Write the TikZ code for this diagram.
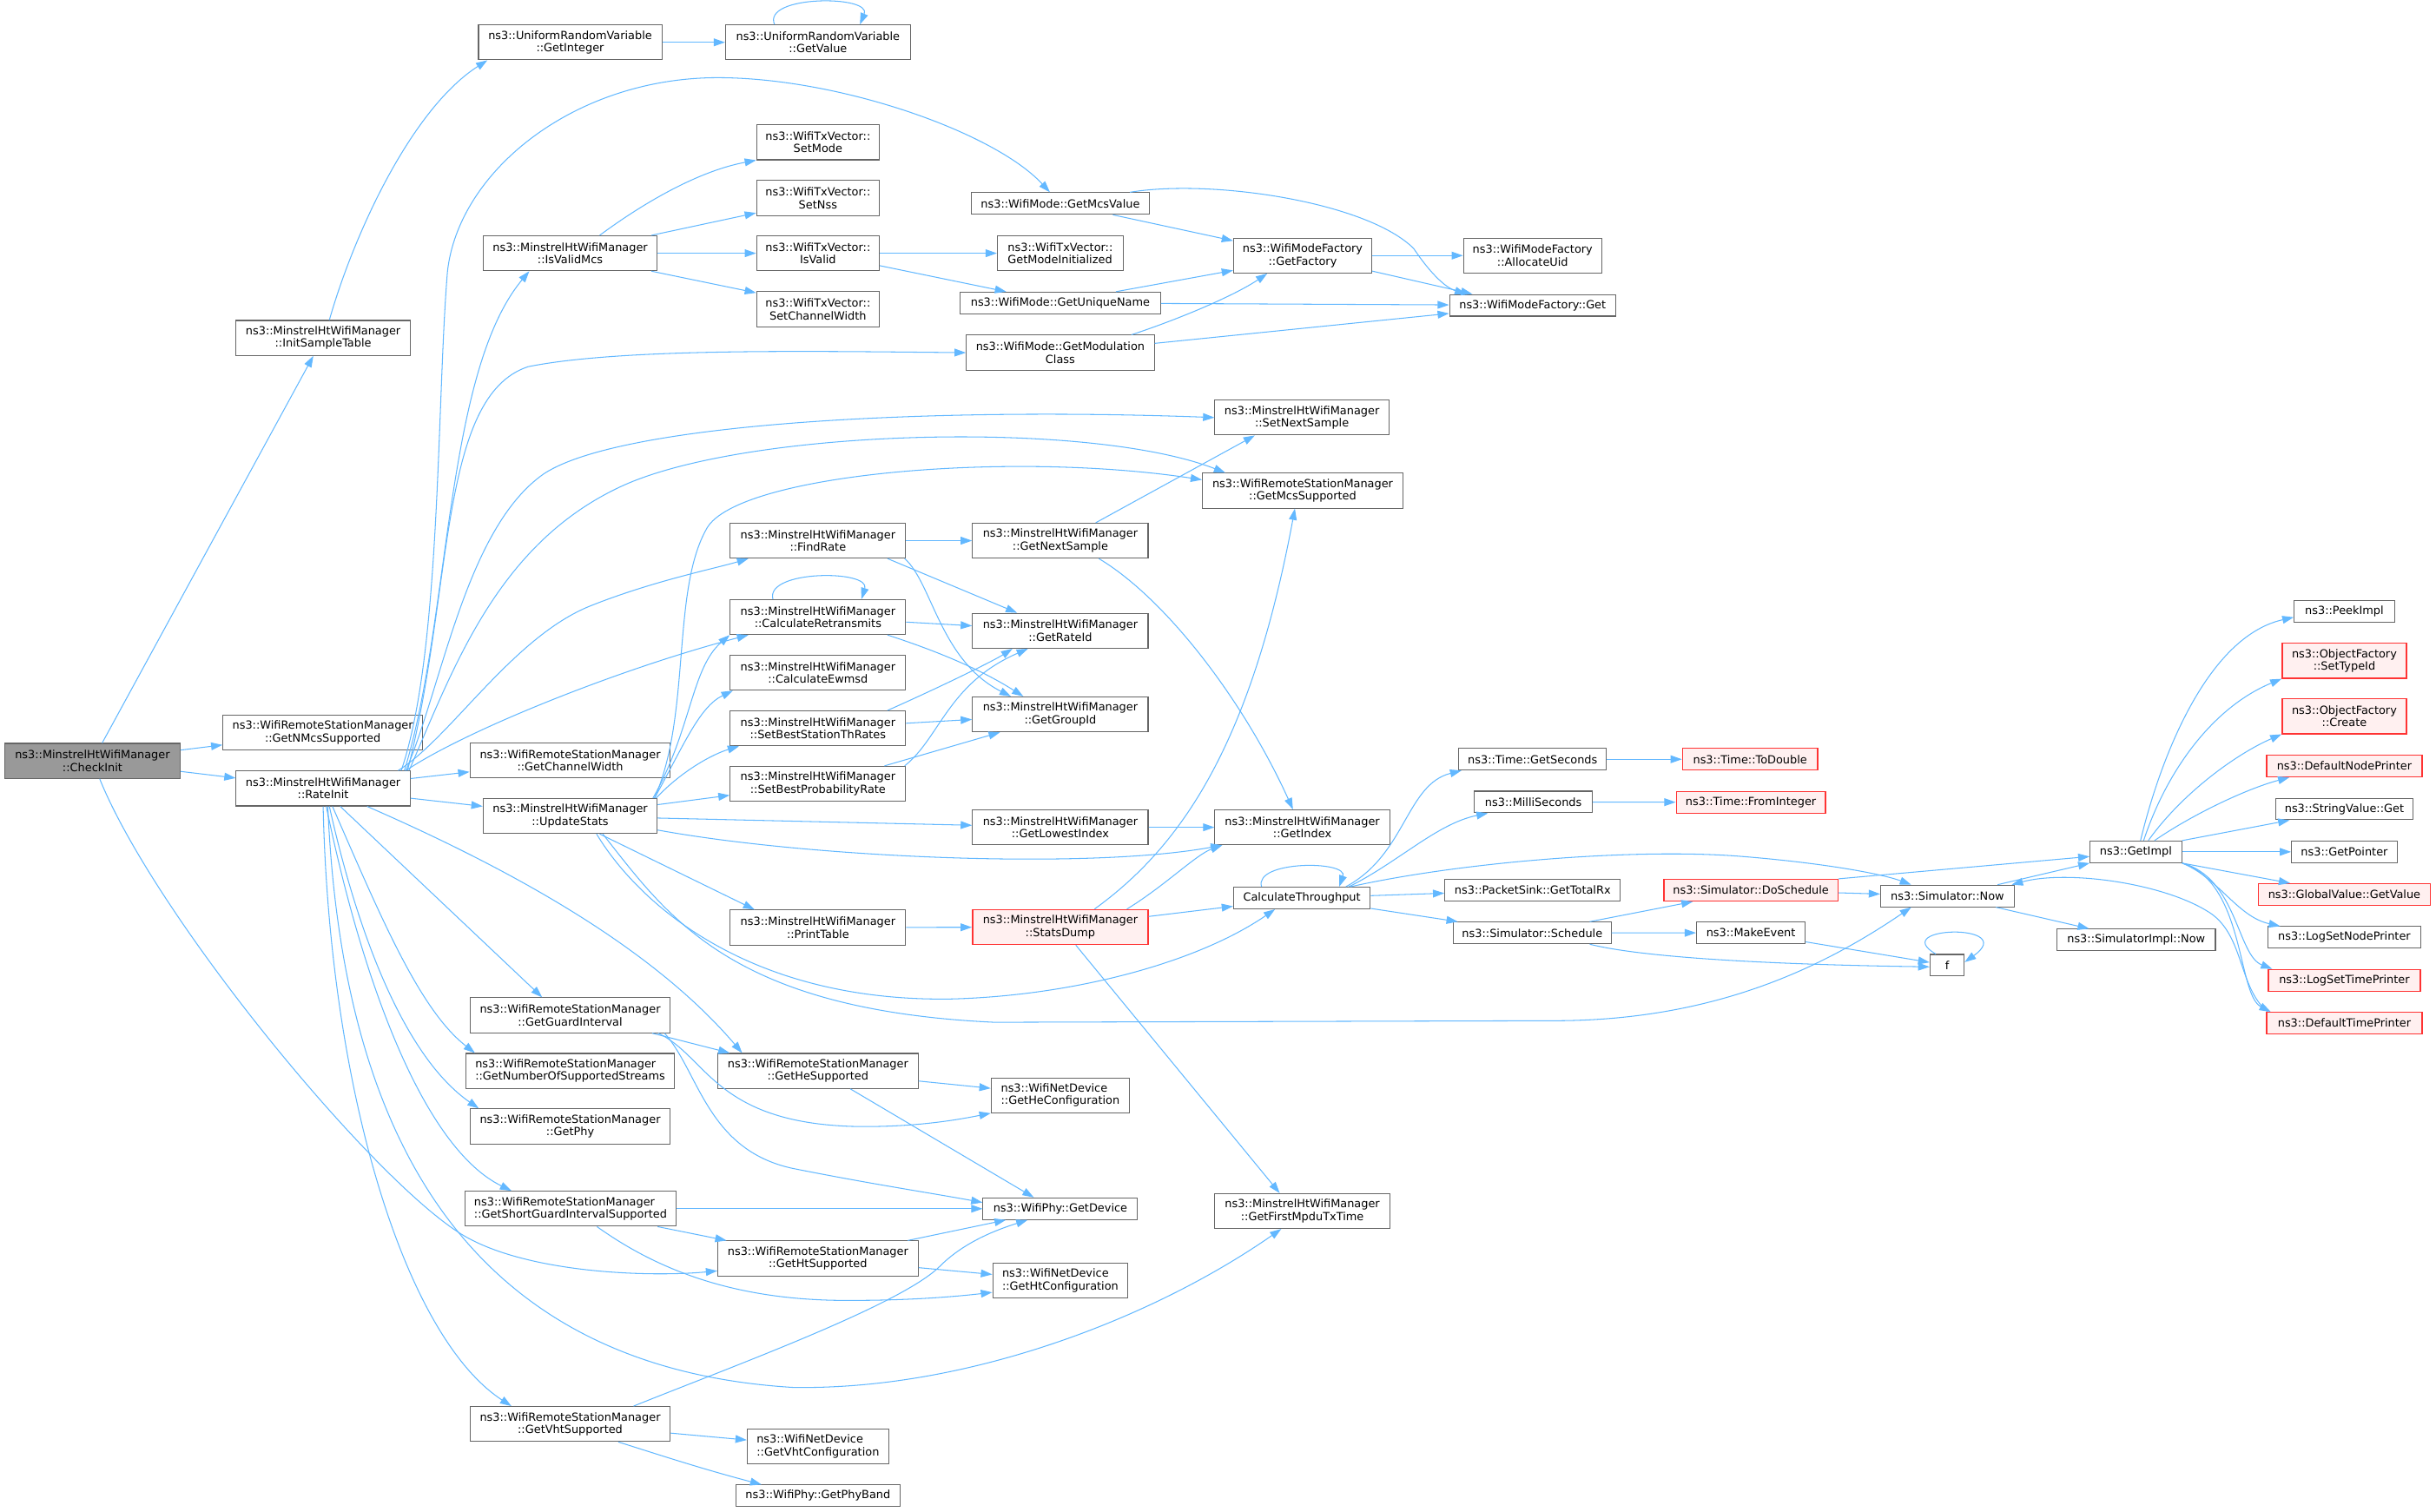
\documentclass[tikz,border=0pt]{standalone}
\usepackage{fontspec}
\setmainfont{DejaVu Sans}
\usetikzlibrary{arrows.meta, calc}
\definecolor{edgeblue}{HTML}{63B8FF}
\definecolor{boxline}{HTML}{666666}
\definecolor{rootfill}{HTML}{999999}
\definecolor{hotline}{HTML}{FF3333}
\definecolor{hotfill}{HTML}{FFF0F0}
\newcommand{\fnfont}{\fontsize{6.15pt}{6.9pt}\selectfont}

\begin{document}
\begin{tikzpicture}[x=0.3mm, y=-0.3mm,
    fn/.style={draw=boxline, fill=white, line width=0.5pt, inner sep=0pt, minimum width=#1*0.3mm, minimum height=11.9pt, align=center, font=\fnfont},
    two/.style={minimum height=19.2pt},
    hot/.style={draw=hotline, fill=hotfill, line width=0.65pt},
    root/.style={fill=rootfill},
    call/.style={draw=edgeblue, line width=0.5pt, -{Triangle[length=2.2mm,width=1.5mm]}}]
      \useasboundingbox (0,0) rectangle (1568,973);

      \node[fn=113, two, root] (checkinit) at (59.5,489.75) {ns3::MinstrelHtWifiManager\\::CheckInit};
      \node[fn=112, two] (initsample) at (208,217.5) {ns3::MinstrelHtWifiManager\\::InitSampleTable};
      \node[fn=118, two] (getinteger) at (367,27.25) {ns3::UniformRandomVariable\\::GetInteger};
      \node[fn=119, two] (getvalue) at (526.5,27.25) {ns3::UniformRandomVariable\\::GetValue};
      \node[fn=128.5, two] (getnmcs) at (207.75,471.6) {ns3::WifiRemoteStationManager\\::GetNMcsSupported};
      \node[fn=112, two] (rateinit) at (208,507.5) {ns3::MinstrelHtWifiManager\\::RateInit};
      \node[fn=112, two] (isvalidmcs) at (367,163) {ns3::MinstrelHtWifiManager\\::IsValidMcs};
      \node[fn=79, two] (setmode) at (526.5,91.6) {ns3::WifiTxVector::\\SetMode};
      \node[fn=79, two] (setnss) at (526.5,127.5) {ns3::WifiTxVector::\\SetNss};
      \node[fn=79, two] (isvalid) at (526.5,163) {ns3::WifiTxVector::\\IsValid};
      \node[fn=79, two] (setchwidth) at (526.5,199) {ns3::WifiTxVector::\\SetChannelWidth};
      \node[fn=115] (getmcsvalue) at (682.5,131) {ns3::WifiMode::GetMcsValue};
      \node[fn=81, two, align=left] (getmodeinit) at (682.5,163) {ns3::WifiTxVector::\\GetModeInitialized};
      \node[fn=129] (getuniquename) at (682.5,195) {ns3::WifiMode::GetUniqueName};
      \node[fn=121, two] (getmodclass) at (682.5,227) {ns3::WifiMode::GetModulation\\Class};
      \node[fn=89, two] (getfactory) at (838.5,164.5) {ns3::WifiModeFactory\\::GetFactory};
      \node[fn=89, two] (allocateuid) at (986.5,164.5) {ns3::WifiModeFactory\\::AllocateUid};
      \node[fn=107] (factoryget) at (986.5,196.5) {ns3::WifiModeFactory::Get};
      \node[fn=112, two] (setnextsample) at (838,268.75) {ns3::MinstrelHtWifiManager\\::SetNextSample};
      \node[fn=129, two] (getmcssupported) at (838.5,315.8) {ns3::WifiRemoteStationManager\\::GetMcsSupported};
      \node[fn=129, two] (getchwidth) at (367,489.5) {ns3::WifiRemoteStationManager\\::GetChannelWidth};
      \node[fn=112, two] (updatestats) at (367,525.25) {ns3::MinstrelHtWifiManager\\::UpdateStats};
      \node[fn=113, two] (findrate) at (526.5,348) {ns3::MinstrelHtWifiManager\\::FindRate};
      \node[fn=113, two] (calcretrans) at (526.5,397.2) {ns3::MinstrelHtWifiManager\\::CalculateRetransmits};
      \node[fn=113, two] (calcewmsd) at (526.5,433) {ns3::MinstrelHtWifiManager\\::CalculateEwmsd};
      \node[fn=113, two] (setbestth) at (526.5,468.8) {ns3::MinstrelHtWifiManager\\::SetBestStationThRates};
      \node[fn=113, two] (setbestprob) at (526.5,504.5) {ns3::MinstrelHtWifiManager\\::SetBestProbabilityRate};
      \node[fn=113, two] (printtable) at (526.5,597) {ns3::MinstrelHtWifiManager\\::PrintTable};
      \node[fn=113, two] (getnextsample) at (682.5,348) {ns3::MinstrelHtWifiManager\\::GetNextSample};
      \node[fn=113, two] (getrateid) at (682.5,406) {ns3::MinstrelHtWifiManager\\::GetRateId};
      \node[fn=113, two] (getgroupid) at (682.5,459.8) {ns3::MinstrelHtWifiManager\\::GetGroupId};
      \node[fn=113, two] (getlowestindex) at (682.5,532.5) {ns3::MinstrelHtWifiManager\\::GetLowestIndex};
      \node[fn=112.5, two] (getindex) at (838.25,532.5) {ns3::MinstrelHtWifiManager\\::GetIndex};
      \node[fn=113, two, hot] (statsdump) at (682.5,596.75) {ns3::MinstrelHtWifiManager\\::StatsDump};
      \node[fn=88] (calcthroughput) at (838,578) {CalculateThroughput};
      \node[fn=95] (getseconds) at (986.5,488.7) {ns3::Time::GetSeconds};
      \node[fn=76] (millis) at (987,516.2) {ns3::MilliSeconds};
      \node[fn=113] (gettotalrx) at (986.5,573) {ns3::PacketSink::GetTotalRx};
      \node[fn=101.5] (schedule) at (986.25,600.5) {ns3::Simulator::Schedule};
      \node[fn=87, hot] (todouble) at (1126.5,488.7) {ns3::Time::ToDouble};
      \node[fn=96, hot] (frominteger) at (1127,516.4) {ns3::Time::FromInteger};
      \node[fn=112, hot] (doschedule) at (1127,573) {ns3::Simulator::DoSchedule};
      \node[fn=70] (makeevent) at (1127,600.4) {ns3::MakeEvent};
      \node[fn=86] (simnow) at (1253.5,576.7) {ns3::Simulator::Now};
      \node[fn=22] (f) at (1253.3,621.3) {f};
      \node[fn=102] (simimplnow) at (1375,605) {ns3::SimulatorImpl::Now};
      \node[fn=59] (getimpl) at (1374.8,548.3) {ns3::GetImpl};
      \node[fn=64.6] (peekimpl) at (1509,393.3) {ns3::PeekImpl};
      \node[fn=80, two, hot] (settypeid) at (1509,425.3) {ns3::ObjectFactory\\::SetTypeId};
      \node[fn=80, two, hot] (create) at (1509,461) {ns3::ObjectFactory\\::Create};
      \node[fn=100, hot] (defnodeprinter) at (1509,493) {ns3::DefaultNodePrinter};
      \node[fn=88] (stringget) at (1509,520.7) {ns3::StringValue::Get};
      \node[fn=68] (getpointer) at (1509,548.3) {ns3::GetPointer};
      \node[fn=111, hot] (globalget) at (1509,575.8) {ns3::GlobalValue::GetValue};
      \node[fn=98] (lognodeprinter) at (1509,603.4) {ns3::LogSetNodePrinter};
      \node[fn=98, hot] (logtimeprinter) at (1509,631) {ns3::LogSetTimePrinter};
      \node[fn=100, hot] (deftimeprinter) at (1509,658.6) {ns3::DefaultTimePrinter};
      \node[fn=129, two] (getguard) at (367,653.5) {ns3::WifiRemoteStationManager\\::GetGuardInterval};
      \node[fn=134, two, align=left] (getnss) at (367,689.3) {ns3::WifiRemoteStationManager\\::GetNumberOfSupportedStreams};
      \node[fn=129, two] (getphy) at (367,725) {ns3::WifiRemoteStationManager\\::GetPhy};
      \node[fn=135.5, two, align=left] (getsgi) at (367.25,778) {ns3::WifiRemoteStationManager\\::GetShortGuardIntervalSupported};
      \node[fn=129, two] (gethe) at (526.5,689.3) {ns3::WifiRemoteStationManager\\::GetHeSupported};
      \node[fn=129, two] (getht) at (526.5,810) {ns3::WifiRemoteStationManager\\::GetHtSupported};
      \node[fn=129, two] (getvht) at (367,916.6) {ns3::WifiRemoteStationManager\\::GetVhtSupported};
      \node[fn=91, two, align=left] (getvhtconf) at (526.5,931) {ns3::WifiNetDevice\\::GetVhtConfiguration};
      \node[fn=106] (getphyband) at (526.5,962.8) {ns3::WifiPhy::GetPhyBand};
      \node[fn=89, two, align=left] (getheconf) at (682.5,705) {ns3::WifiNetDevice\\::GetHeConfiguration};
      \node[fn=99.5] (getdevice) at (682.5,778) {ns3::WifiPhy::GetDevice};
      \node[fn=87, two, align=left] (gethtconf) at (682.5,824.3) {ns3::WifiNetDevice\\::GetHtConfiguration};
      \node[fn=112.5, two] (getfirstmpdu) at (838.25,779.5) {ns3::MinstrelHtWifiManager\\::GetFirstMpduTxTime};

      \draw[call] (checkinit) -- (initsample);
      \draw[call] (checkinit) -- (getnmcs);
      \draw[call] (checkinit) -- (rateinit);
      \draw[call] (checkinit) .. controls (100,590) and (240,760) .. (298,795) .. controls (340,820) and (420,822) .. ($(getht.west)+(0,8)$);
      \draw[call] ($(initsample.north)+(4,0)$) .. controls (228,150) and (265,70) .. ($(getinteger.south west)+(6,0)$);
      \draw[call] (getinteger) -- (getvalue);
      \draw[call] ($(getvalue.north)+(-28,0)$) .. controls +(-8,-19) and +(8,-19) .. ($(getvalue.north)+(27,0)$);

      \draw[call] ($(rateinit.north east)+(-6,0)$) .. controls (284,420) and (281,260) .. (288,175) .. controls (295,110) and (370,50) .. (462,50) .. controls (540,50) and (640,85) .. (getmcsvalue);
      \draw[call] ($(rateinit.north east)+(-4,0)$) .. controls (290,400) and (286,240) .. ($(isvalidmcs.south west)+(30,0)$);
      \draw[call] ($(rateinit.north east)+(-2,0)$) .. controls (292,380) and (282,255) .. (340,236) .. controls (400,224) and (520,226) .. (getmodclass.west);
      \draw[call] ($(rateinit.north east)+(-3,0)$) .. controls (285,440) and (300,340) .. (350,305) .. controls (400,272) and (600,262) .. (setnextsample.west);
      \draw[call] ($(rateinit.north east)+(-1,0)$) .. controls (292,430) and (320,350) .. (400,313) .. controls (480,276) and (700,270) .. ($(getmcssupported.north west)+(15,0)$);
      \draw[call] ($(rateinit.north east)+(-8,0)$) .. controls (290,475) and (330,410) .. (380,390) .. controls (420,374) and (460,366) .. ($(findrate.south west)+(12,0)$);
      \draw[call] ($(rateinit.north east)+(-3,0)$) .. controls (300,470) and (400,430) .. ($(calcretrans.south west)+(12,0)$);
      \draw[call] (rateinit) -- (getchwidth);
      \draw[call] (rateinit) -- (updatestats);
      \draw[call] ($(rateinit.south east)+(-28,0)$) .. controls (330,560) and (420,610) .. ($(gethe.north west)+(16,0)$);
      \draw[call] ($(rateinit.south)+(11,0)$) -- ($(getguard.north)+(-18,0)$);
      \draw[call] ($(rateinit.south)+(6,0)$) .. controls (245,590) and (270,650) .. ($(getnss.north west)+(6,0)$);
      \draw[call] ($(rateinit.south)+(4,0)$) .. controls (230,600) and (260,680) .. ($(getphy.north west)+(6,0)$);
      \draw[call] ($(rateinit.south)+(2,0)$) .. controls (235,640) and (275,740) .. ($(getsgi.north west)+(30,0)$);
      \draw[call] (rateinit.south) .. controls (212,700) and (260,860) .. ($(getvht.north west)+(27,0)$);
      \draw[call] ($(rateinit.south)+(3,0)$) .. controls (220,730) and (300,880) .. (510,893) .. controls (620,895) and (740,850) .. ($(getfirstmpdu.south west)+(43,0)$);

      \draw[call] ($(updatestats.north east)+(-3,0)$) .. controls (445,470) and (445,430) .. (calcretrans.south west);
      \draw[call] ($(updatestats.north east)+(-2,0)$) .. controls (440,480) and (450,455) .. ($(calcewmsd.south west)+(2,0)$);
      \draw[call] ($(updatestats.north east)+(-1,0)$) .. controls (440,495) and (460,485) .. ($(setbestth.south west)+(6,0)$);
      \draw[call] (updatestats) -- (setbestprob);
      \draw[call] ($(updatestats.north east)+(-2,0)$) .. controls (445,460) and (432,380) .. (455,340) .. controls (475,305) and (650,290) .. ($(getmcssupported.west)+(0,-7)$);
      \draw[call] (updatestats) -- (getlowestindex);
      \draw[call] ($(updatestats.east)+(0,9)$) .. controls (520,552) and (700,560) .. ($(getindex.south west)+(5,0)$);
      \draw[call] ($(updatestats.south)+(19,0)$) -- ($(printtable.north west)+(16,0)$);
      \draw[call] ($(updatestats.south)+(17,0)$) .. controls (410,580) and (480,645) .. (612,643) .. controls (690,641) and (770,620) .. ($(calcthroughput.south west)+(27,0)$);
      \draw[call] ($(updatestats.south)+(21,0)$) .. controls (430,590) and (470,650) .. (640,658) -- (1000,657) .. controls (1100,657) and (1170,625) .. ($(simnow.south west)+(20,0)$);

      \draw[call] (findrate) -- (getnextsample);
      \draw[call] ($(findrate.south east)+(-12,0)$) -- ($(getrateid.north west)+(29,0)$);
      \draw[call] ($(findrate.south east)+(-1,0)$) .. controls (600,375) and (605,425) .. ($(getgroupid.north west)+(25,0)$);
      \draw[call] ($(calcretrans.north)+(-29,0)$) .. controls +(-5,-19) and +(6,-19) .. ($(calcretrans.north)+(28,0)$);
      \draw[call] (calcretrans) -- (getrateid);
      \draw[call] ($(calcretrans.south east)+(-12,0)$) .. controls (600,418) and (630,430) .. ($(getgroupid.north west)+(33,0)$);
      \draw[call] ($(setbestth.north east)+(-12,0)$) .. controls (610,440) and (640,425) .. ($(getrateid.south west)+(26,0)$);
      \draw[call] (setbestth) -- (getgroupid);
      \draw[call] ($(setbestprob.north east)+(-14,0)$) -- ($(getgroupid.south west)+(18,0)$);
      \draw[call] ($(setbestprob.north east)+(-1,0)$) .. controls (605,475) and (610,440) .. ($(getrateid.south west)+(36,0)$);
      \draw[call] ($(getnextsample.north east)+(-34,0)$) -- ($(setnextsample.south west)+(26,0)$);
      \draw[call] ($(getnextsample.south east)+(-32,0)$) .. controls (750,385) and (800,450) .. ($(getindex.north)+(-6,0)$);
      \draw[call] (getlowestindex) -- (getindex);
      \draw[call] (printtable) -- (statsdump);

      \draw[call] ($(statsdump.north)+(22,0)$) .. controls (760,545) and (805,480) .. ($(getmcssupported.south)+(-5,0)$);
      \draw[call] ($(statsdump.north east)+(-14,0)$) .. controls (750,570) and (770,550) .. ($(getindex.south west)+(5,0)$);
      \draw[call] (statsdump) -- (calcthroughput);
      \draw[call] ($(statsdump.south)+(10,0)$) -- ($(getfirstmpdu.north west)+(42,0)$);

      \draw[call] ($(calcthroughput.north)+(-26,0)$) .. controls +(-5,-17) and +(6,-17) .. ($(calcthroughput.north)+(24,0)$);
      \draw[call] ($(calcthroughput.north east)+(-16,0)$) .. controls (905,550) and (905,505) .. ($(getseconds.south west)+(2,0)$);
      \draw[call] ($(calcthroughput.north east)+(-14,0)$) .. controls (900,555) and (925,530) .. ($(millis.south west)+(9,0)$);
      \draw[call] (calcthroughput) -- (gettotalrx);
      \draw[call] (calcthroughput) -- (schedule);
      \draw[call] ($(calcthroughput.north east)+(-13,0)$) .. controls (940,555) and (1050,546) .. (1118,551) .. controls (1170,555) and (1210,562) .. ($(simnow.north west)+(20,0)$);
      \draw[call] (getseconds) -- (todouble);
      \draw[call] (millis) -- (frominteger);
      \draw[call] ($(schedule.north east)+(-14,0)$) -- ($(doschedule.south west)+(19,0)$);
      \draw[call] (schedule) -- (makeevent);
      \draw[call] ($(schedule.south east)+(-14,0)$) .. controls (1060,617) and (1150,621) .. ($(f.west)+(0,1)$);
      \draw[call] (doschedule) -- (simnow);
      \draw[call] (doschedule.north east) -- ($(getimpl.west)+(0,3)$);
      \draw[call] (makeevent) -- (f);
      \draw[call] ($(f.north west)+(4,0)$) .. controls (1215,596) and (1300,594) .. ($(f.east)+(0,-2)$);
      \draw[call] ($(simnow.north east)+(-11,0)$) -- (getimpl.south west);
      \draw[call] ($(simnow.south east)+(-12,0)$) -- ($(simimplnow.north west)+(21,0)$);
      \draw[call] ($(deftimeprinter.north west)+(1,0)$) .. controls (1440,635) and (1445,600) .. (1420,586) .. controls (1390,568) and (1330,560) .. ($(simnow.north east)+(-2,0)$);

      \draw[call] ($(getimpl.north)+(3,0)$) .. controls (1390,490) and (1420,410) .. ($(peekimpl.west)+(0,4)$);
      \draw[call] ($(getimpl.north)+(5,0)$) .. controls (1395,495) and (1425,455) .. (settypeid.south west);
      \draw[call] ($(getimpl.north)+(8,0)$) .. controls (1405,510) and (1440,485) .. (create.south west);
      \draw[call] ($(getimpl.north)+(12,0)$) .. controls (1410,525) and (1445,508) .. ($(defnodeprinter.south west)+(15,0)$);
      \draw[call] (getimpl.north east) -- ($(stringget.south west)+(9,0)$);
      \draw[call] (getimpl) -- (getpointer);
      \draw[call] (getimpl.south east) -- ($(globalget.north west)+(21,0)$);
      \draw[call] (getimpl.south east) .. controls (1428,565) and (1440,590) .. ($(lognodeprinter.north west)+(8,0)$);
      \draw[call] (getimpl.south east) .. controls (1440,565) and (1440,615) .. ($(logtimeprinter.north west)+(3,0)$);
      \draw[call] (getimpl.south east) .. controls (1445,568) and (1440,640) .. ($(deftimeprinter.north west)+(3,0)$);

      \draw[call] ($(isvalidmcs.north)+(19,0)$) .. controls (415,130) and (450,110) .. (setmode.south west);
      \draw[call] ($(isvalidmcs.north east)+(-4,0)$) -- ($(setnss.south west)+(0,-2)$);
      \draw[call] (isvalidmcs) -- (isvalid);
      \draw[call] ($(isvalidmcs.south east)+(-4,0)$) -- ($(setchwidth.north west)+(0,1)$);
      \draw[call] (isvalid) -- (getmodeinit);
      \draw[call] ($(isvalid.east)+(0,8)$) -- ($(getuniquename.north west)+(30,0)$);
      \draw[call] ($(getmcsvalue.south east)+(-24,0)$) -- ($(getfactory.north west)+(0,2)$);
      \draw[call] ($(getmcsvalue.north east)+(-13,0)$) .. controls (780,115) and (880,130) .. (910,160) .. controls (920,175) and (930,185) .. ($(factoryget.north west)+(11,0)$);
      \draw[call] ($(getuniquename.north east)+(-29,0)$) -- ($(getfactory.south west)+(0,-2)$);
      \draw[call] (getuniquename) -- (factoryget);
      \draw[call] ($(getmodclass.north east)+(-15,0)$) .. controls (760,205) and (795,190) .. ($(getfactory.south west)+(22,0)$);
      \draw[call] ($(getmodclass.east)+(0,-6)$) -- ($(factoryget.south west)+(0,-2)$);
      \draw[call] (getfactory) -- (allocateuid);
      \draw[call] ($(getfactory.east)+(0,10)$) -- ($(factoryget.north west)+(15,0)$);

      \draw[call] ($(getguard.south east)+(-12,0)$) -- ($(gethe.north west)+(8,0)$);
      \draw[call] ($(getguard.south east)+(-8,0)$) .. controls (455,680) and (460,722) .. (548,725) .. controls (590,726) and (620,720) .. (getheconf.south west);
      \draw[call] ($(getguard.south east)+(-4,0)$) .. controls (450,690) and (455,740) .. (510,752) .. controls (560,762) and (600,768) .. ($(getdevice.west)+(0,-4)$);
      \draw[call] (gethe) -- (getheconf);
      \draw[call] ($(gethe.south east)+(-44,0)$) -- ($(getdevice.north west)+(33,0)$);
      \draw[call] (getsgi) -- (getdevice);
      \draw[call] ($(getsgi.south east)+(-12,0)$) -- ($(getht.north west)+(6,0)$);
      \draw[call] ($(getsgi.south)+(17,0)$) .. controls (420,815) and (470,838) .. (550,837) .. controls (590,837) and (620,834) .. ($(gethtconf.south west)+(0,-4)$);
      \draw[call] ($(getht.north east)+(-7,0)$) -- ($(getdevice.south west)+(15,0)$);
      \draw[call] (getht) -- (gethtconf);
      \draw[call] ($(getvht.north east)+(-24,0)$) .. controls (470,880) and (580,840) .. (605,815) .. controls (620,800) and (640,792) .. ($(getdevice.south west)+(29,0)$);
      \draw[call] (getvht) -- (getvhtconf);
      \draw[call] ($(getvht.south)+(31,0)$) .. controls (420,935) and (450,945) .. ($(getphyband.north west)+(17,0)$);
\end{tikzpicture}
\end{document}
